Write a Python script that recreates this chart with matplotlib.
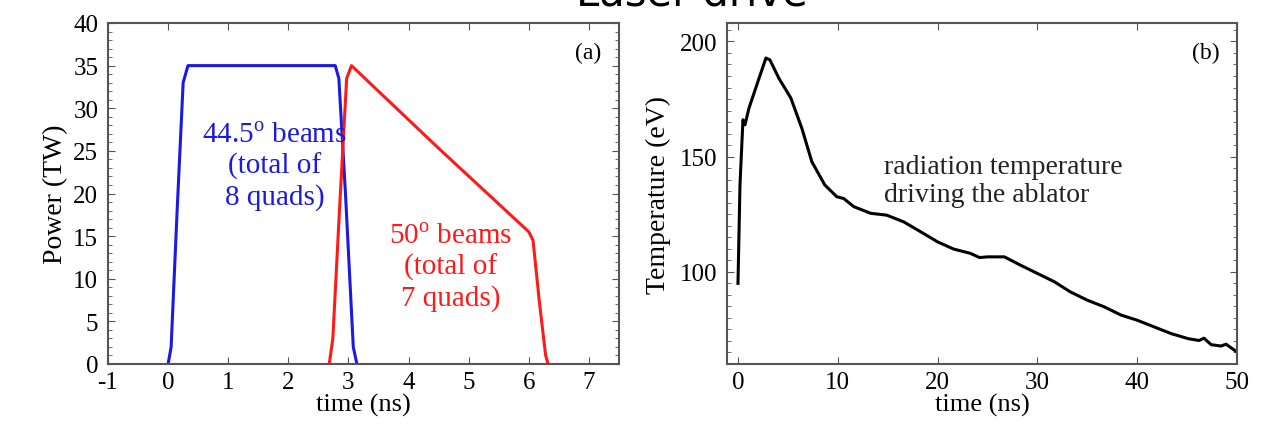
import numpy as np
import matplotlib
matplotlib.use("Agg")
import matplotlib.pyplot as plt
from matplotlib.ticker import MultipleLocator

# laser power, panel (a)
t_blue = [0.0, 0.05, 0.15, 0.25, 0.33, 2.78, 2.84, 2.95, 3.08, 3.14]
p_blue = [0.0, 2.0, 18.0, 33.0, 35.0, 35.0, 33.5, 20.0, 2.0, 0.0]
t_red = [2.68, 2.74, 2.85, 2.97, 3.05, 4.5, 6.0, 6.07, 6.18, 6.28, 6.32]
p_red = [0.0, 3.0, 18.0, 33.5, 35.0, 25.3, 15.5, 14.5, 7.0, 1.0, 0.0]

# radiation temperature, panel (b)
t_rad = [0.0, 0.2, 0.5, 0.7, 1.1, 2.0, 2.8, 3.2, 4.1, 5.3, 6.4, 7.4, 8.7, 9.9,
         10.6, 11.6, 13.3, 14.9, 16.6, 18.3, 20.0, 21.6, 23.3, 24.2, 25.0, 26.7,
         28.3, 30.0, 31.7, 33.3, 35.0, 36.7, 38.4, 40.0, 41.7, 43.4, 45.1,
         46.2, 46.7, 47.4, 48.4, 48.9, 50.0]
T_rad = [95.0, 137.7, 166.0, 163.8, 171.0, 182.6, 192.8, 192.0, 184.0, 175.4,
         162.3, 147.8, 137.7, 132.6, 131.8, 128.3, 125.4, 124.6, 121.7, 117.4,
         113.0, 109.9, 108.0, 106.2, 106.5, 106.5, 102.9, 99.3, 95.7, 91.3,
         87.7, 84.8, 81.2, 79.0, 76.1, 73.2, 71.0, 70.2, 71.2, 68.4, 67.8,
         68.6, 65.2]

plt.rcParams['font.family'] = ['Liberation Serif', 'DejaVu Serif']
plt.rcParams['mathtext.fontset'] = 'custom'
plt.rcParams['mathtext.rm'] = 'Liberation Serif'
plt.rcParams['axes.unicode_minus'] = False

fig = plt.figure(figsize=(12.74, 4.27), dpi=100)
ax1 = fig.add_axes([108/1274, 62/427, 511/1274, 341/427])
ax2 = fig.add_axes([727/1274, 62/427, 510/1274, 341/427])

# title cut off by the top edge, as in the source picture
fig.text(0.543, 1 - 5/427, "Laser drive", ha='center', va='baseline',
         fontsize=30, family='DejaVu Sans')

ax1.plot(t_blue, p_blue, color='#1a1ae0', lw=2.2)
ax1.plot(t_red, p_red, color='#ff1a1a', lw=2.2)
ax1.set_xlim(-1, 7.5)
ax1.set_ylim(0, 40)
ax1.xaxis.set_major_locator(MultipleLocator(1))
ax1.yaxis.set_major_locator(MultipleLocator(5))
ax1.yaxis.set_minor_locator(MultipleLocator(1))
ax1.set_xlabel("time (ns)", fontsize=19, labelpad=0)
ax1.set_ylabel("Power (TW)", fontsize=20, labelpad=4)
ax1.text(0.965, 0.915, "(a)", transform=ax1.transAxes, ha='right', va='center', fontsize=17)
ax1.text(1.77, 23.2, "44.5$^{\\rm o}$ beams\n(total of\n8 quads)", color='#1a1ae0',
         ha='center', va='center', fontsize=21, linespacing=1.2)
ax1.text(4.7, 11.4, "50$^{\\rm o}$ beams\n(total of\n7 quads)", color='#ff1a1a',
         ha='center', va='center', fontsize=21, linespacing=1.2)

ax2.plot(t_rad, T_rad, color='black', lw=2.2)
ax2.set_xlim(-1.1, 50)
ax2.set_ylim(60, 208)
ax2.xaxis.set_major_locator(MultipleLocator(10))
ax2.yaxis.set_major_locator(MultipleLocator(50))
ax2.yaxis.set_minor_locator(MultipleLocator(5))
ax2.set_xlabel("time (ns)", fontsize=19, labelpad=0)
ax2.set_ylabel("Temperature (eV)", fontsize=20, labelpad=6)
ax2.text(0.965, 0.915, "(b)", transform=ax2.transAxes, ha='right', va='center', fontsize=17)
ax2.text(14.6, 139.6, "radiation temperature\ndriving the ablator", ha='left', va='center',
         fontsize=20, color='#222222', linespacing=1.2)

for ax in (ax1, ax2):
    ax.tick_params(which='both', direction='in', top=True, right=True,
                   labelsize=18, color='#555555')
    ax.tick_params(axis='x', pad=5)
    ax.tick_params(axis='y', pad=7)
    ax.tick_params(which='major', length=5)
    ax.tick_params(which='minor', length=3)
    for s in ax.spines.values():
        s.set_color('#555555')
        s.set_linewidth(1.5)

fig.savefig("out.png", dpi=100)
